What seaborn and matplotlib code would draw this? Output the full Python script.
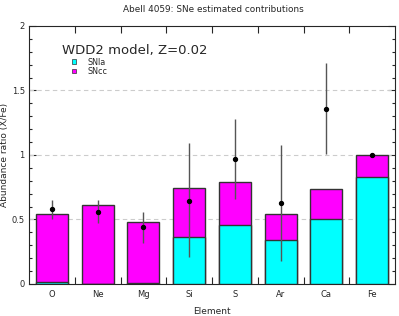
import numpy as np
import pandas as pd
import matplotlib
matplotlib.use('Agg')
import matplotlib.pyplot as plt
import seaborn as sns
from matplotlib.patches import Patch
from matplotlib.ticker import MultipleLocator, FixedLocator, FormatStrFormatter

# values
elements = ['O', 'Ne', 'Mg', 'Si', 'S', 'Ar', 'Ca', 'Fe']
snia = [0.013, 0.0, 0.01, 0.364, 0.455, 0.339, 0.50, 0.832]
total = [0.545, 0.612, 0.483, 0.744, 0.793, 0.545, 0.739, 1.0]
obs = [0.58, 0.558, 0.44, 0.646, 0.969, 0.630, 1.359, 1.0]
obs_lo = [0.506, 0.47, 0.315, 0.207, 0.659, 0.18, 1.005, 1.0]
obs_hi = [0.65, 0.65, 0.558, 1.09, 1.279, 1.08, 1.71, 1.0]

df = pd.DataFrame({'Element': elements, 'SNIa': snia, 'Total': total})

sns.set_style('ticks')
plt.rcParams['font.family'] = ['DejaVu Sans']

fig = plt.figure(figsize=(3.99, 3.16), dpi=100)
ax = fig.add_axes([0.0727, 0.1013, 0.9173, 0.8167])

edge = '#333333'
# stacked: total (SNcc on top) first, then SNIa part over it
sns.barplot(data=df, x='Element', y='Total', color='#ff00ff', saturation=1,
            width=0.7, edgecolor=edge, linewidth=1, ax=ax, zorder=2)
sns.barplot(data=df, x='Element', y='SNIa', color='#00ffff', saturation=1,
            width=0.7, edgecolor=edge, linewidth=1, ax=ax, zorder=3)

xpos = np.arange(len(elements))
obs_a = np.array(obs)
yerr = [obs_a - np.array(obs_lo), np.array(obs_hi) - obs_a]
ax.errorbar(xpos, obs, yerr=yerr, fmt='none', ecolor='#555555', elinewidth=1,
            capsize=0, zorder=4)
ax.scatter(xpos, obs, s=8, color='black', zorder=5)

ax.set_xlim(-0.5, len(elements) - 0.5)
ax.set_ylim(0, 2)
for yv in [0.5, 1.0, 1.5]:
    ax.axhline(yv, color='#cccccc', ls=(0, (4, 3)), lw=0.8, zorder=1)

ax.yaxis.set_major_locator(MultipleLocator(0.5))
ax.yaxis.set_minor_locator(MultipleLocator(0.1))
ax.yaxis.set_major_formatter(FormatStrFormatter('%g'))
ax.xaxis.set_minor_locator(FixedLocator(np.arange(0.5, len(elements) - 0.5, 1)))
ax.tick_params(axis='x', which='major', length=0, labelsize=6, pad=4)
ax.tick_params(axis='x', which='minor', direction='in', length=5, top=True, bottom=True, width=0.8)
ax.tick_params(axis='y', which='major', direction='in', length=5, left=True, right=True,
               labelsize=6, width=0.8, pad=3)
ax.tick_params(axis='y', which='minor', direction='in', length=2.5, left=True, right=True, width=0.8)
for sp in ax.spines.values():
    sp.set_visible(True)
    sp.set_linewidth(0.8)

ax.set_xlabel('Element', fontsize=6.5, labelpad=6)
ax.set_ylabel('Abundance ratio (X/Fe)', fontsize=6.5, labelpad=2)
fig.text(0.535, 0.985, 'Abell 4059: SNe estimated contributions', ha='center', va='top',
         fontsize=6.4)

ax.text(0.09, 0.905, 'WDD2 model, Z=0.02', transform=ax.transAxes, fontsize=9.5,
        va='center', ha='left')
handles = [Patch(facecolor='#00ffff', edgecolor=edge, lw=0.5, label='SNIa'),
           Patch(facecolor='#ff00ff', edgecolor=edge, lw=0.5, label='SNcc')]
ax.legend(handles=handles, loc='upper left', bbox_to_anchor=(0.11, 0.89), frameon=False,
          fontsize=5.8, handlelength=0.45, handleheight=0.45, handletextpad=1.4,
          labelspacing=0.05, borderaxespad=0)

fig.savefig('out.png', dpi=100)
